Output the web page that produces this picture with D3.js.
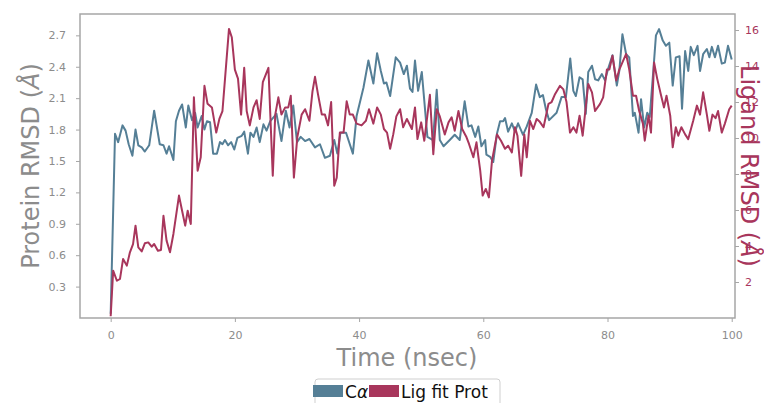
<!DOCTYPE html>
<html>
<head>
<meta charset="utf-8">
<script src="https://cdn.jsdelivr.net/npm/d3@7"></script>
<style>
body { margin: 0; background: #fff; }
text { font-family: "DejaVu Sans", sans-serif; }
</style>
</head>
<body>
<svg id="chart" width="764" height="403"></svg>
<script>
// protein C-alpha RMSD (left axis)
const protTime = [0,0.7,1.2,1.9,2.4,2.9,3.5,4.0,4.45,5.0,5.5,6.2,7.0,7.9,8.5,9.0,9.4,10.1,10.5,11.0,11.5,12.1,12.5,13.1,13.6,14.0,14.65,15.1,15.5,16.0,16.5,17.1,17.6,18.0,18.4,18.9,19.4,19.9,20.4,21.1,21.5,22.1,22.5,23.0,23.5,24.0,24.6,25.1,25.7,26.7,27.5,28.2,28.8,29.4,30.0,30.6,31.3,32.0,32.9,33.7,34.5,35.3,36.0,36.5,37.0,37.9,39.0,39.6,40.7,41.5,42.3,42.9,43.5,44.0,44.4,45.0,45.9,46.6,47.2,47.7,48.2,48.6,49.0,49.5,50.1,51.0,51.9,52.5,53.0,53.6,54.6,55.4,56.2,57.0,57.6,58.1,58.7,59.2,59.7,60.3,60.5,61.1,61.6,62.2,62.7,63.2,63.5,64.0,64.6,65.1,65.6,66.4,67.0,67.8,68.5,69.1,69.6,70.1,70.6,71.8,72.6,73.3,74.0,74.5,74.9,75.5,76.0,76.5,76.9,77.5,78.0,78.5,79.1,79.6,80.1,80.8,81.5,81.9,82.4,83.0,83.5,84.1,84.4,85.0,85.4,85.9,86.4,86.8,87.4,87.8,88.3,88.9,89.4,89.95,90.5,91.0,91.6,92.0,92.5,93.0,93.4,93.9,94.5,94.9,95.4,96.0,96.4,96.8,97.3,97.8,98.4,98.9,99.4,100.0];
const protRmsd = [0.04,1.76,1.68,1.84,1.79,1.66,1.55,1.80,1.65,1.63,1.59,1.65,1.98,1.66,1.65,1.57,1.64,1.51,1.88,1.98,2.04,1.82,2.03,1.89,1.96,1.82,1.93,1.80,1.88,1.87,1.57,1.57,1.68,1.66,1.70,1.65,1.68,1.61,1.72,1.74,1.78,1.57,1.77,1.73,1.82,1.68,1.85,1.79,1.88,1.95,1.69,1.98,1.82,2.03,1.68,1.73,1.69,1.71,1.63,1.66,1.53,1.55,1.70,1.57,1.77,1.77,1.57,1.93,2.20,2.46,2.24,2.53,2.36,2.24,2.25,2.12,2.49,2.44,2.33,2.41,2.19,2.16,2.46,2.17,2.35,1.73,1.70,2.18,1.70,1.64,1.70,1.75,1.70,2.07,1.83,1.84,1.73,1.83,1.64,1.70,1.56,1.54,1.49,1.76,1.88,1.88,1.91,1.78,1.86,1.78,1.86,1.75,1.83,1.96,2.23,2.11,2.13,1.99,1.89,1.96,2.11,2.11,2.48,2.17,2.12,2.30,2.28,1.95,2.35,2.41,2.28,2.27,2.33,2.27,2.38,2.51,2.22,2.36,2.71,2.52,2.49,1.93,1.96,1.77,2.09,1.82,1.96,1.92,2.38,2.70,2.76,2.65,2.60,2.63,2.22,2.49,2.50,2.00,2.55,2.36,2.59,2.51,2.60,2.36,2.52,2.57,2.49,2.59,2.49,2.60,2.43,2.44,2.60,2.47];

// ligand fit on protein RMSD (right axis)
const ligTime = [0,0.4,1.0,1.5,2.0,2.6,3.1,3.6,4.0,4.45,5.0,5.5,6.05,6.6,7.0,7.6,8.1,8.5,9.0,9.55,10.1,11.0,11.5,12.0,12.4,12.9,13.4,14.0,14.5,15.1,15.6,16.3,17.0,17.5,18.0,19.05,19.5,20.0,20.5,21.0,21.5,21.9,22.4,23.0,23.5,24.0,24.5,25.4,26.1,26.5,27.0,27.5,28.1,28.6,29.0,29.5,30.05,30.75,31.3,32.0,32.5,32.9,33.4,34.0,34.5,35.0,35.5,36.0,36.4,36.9,37.5,38.0,38.5,39.0,39.6,40.4,41.1,41.6,42.3,42.9,43.5,44.0,44.5,45.0,45.5,46.0,46.6,47.1,47.7,48.5,49.0,49.4,50.0,50.5,51.4,51.95,52.5,53.0,53.8,54.4,54.9,55.4,56.0,56.6,57.3,57.7,58.4,58.9,59.5,59.9,60.4,60.9,61.4,62.2,62.85,63.5,64.0,64.6,65.1,65.5,66.1,66.6,67.0,67.5,68.05,68.6,69.1,69.7,70.5,71.0,71.5,72.35,72.9,73.4,73.96,74.5,75.0,75.5,76.0,76.9,77.5,78.0,78.8,79.3,79.9,80.3,80.8,81.4,81.9,83.0,83.5,84.1,84.6,85.1,85.7,86.0,86.6,87.0,87.5,88.0,88.6,89.1,89.5,90.1,90.5,91.0,91.4,91.9,92.5,93.0,93.8,94.4,94.9,95.4,96.0,96.4,96.9,97.4,97.8,98.4,98.9,99.6,100.0];
const ligRmsd = [0.1,2.63,2.07,2.17,3.28,2.91,3.65,4.11,5.13,3.93,3.70,4.15,4.20,3.96,4.11,3.74,3.78,5.68,4.30,3.65,4.67,6.80,5.96,5.13,5.96,5.22,12.26,8.18,8.93,12.9,11.9,11.7,10.3,11.06,11.5,16.06,15.6,13.8,13.3,11.3,13.9,11.5,10.7,11.7,12.1,11.06,13.1,13.9,7.9,11.3,12.26,11.3,11.7,11.7,12.35,7.8,10.04,11.3,11.6,10.96,12.6,13.4,12.4,11.3,11.3,10.7,12.0,7.35,7.8,10.3,10.3,12.04,11.3,11.3,10.8,10.7,10.96,11.6,10.8,11.7,11.3,10.5,10.3,9.4,10.2,11.2,11.6,10.6,11.06,10.5,11.7,9.94,10.87,9.85,12.4,9.1,11.6,11.2,10.2,10.87,11.15,10.4,11.5,10.5,10.04,9.67,8.93,9.76,8.2,6.8,7.17,6.7,8.74,10.2,9.85,9.4,9.57,9.2,10.6,10.13,7.9,10.2,8.93,10.96,10.5,11.06,10.9,10.6,11.9,12.0,12.4,12.9,12.7,12.0,10.3,10.6,10.3,11.24,10.13,13.0,12.54,11.5,11.9,12.26,13.8,13.8,14.57,13.2,13.8,14.67,13.8,12.35,12.35,11.5,10.8,9.85,11.24,10.3,14.2,13.3,12.4,11.7,12.35,11.24,9.48,10.6,10.13,10.6,10.2,9.94,10.96,11.8,11.3,12.54,11.3,10.4,11.3,11.1,11.5,10.3,10.8,11.6,11.8];

const xTicks = [0, 20, 40, 60, 80, 100];
const leftTicks = [0.3, 0.6, 0.9, 1.2, 1.5, 1.8, 2.1, 2.4, 2.7];
const rightTicks = [2, 4, 6, 8, 10, 12, 14, 16];
const legendLabels = [["C", "α"], ["Lig fit Prot", ""]];

const blue = "#557f96";
const red = "#a8365c";
const grey = "#8c8c8c";
const spine = "#a6a6a6";

const svg = d3.select("#chart");
const pl = 80, pr = 735, pt = 14, pb = 318;

const x = d3.scaleLinear().domain([-4.94, 100.53]).range([pl, pr]);
const yL = d3.scaleLinear().domain([0, 2.904]).range([pb, pt]);
const yR = d3.scaleLinear().domain([0, 16.89]).range([pb, pt]);

svg.append("defs").append("clipPath").attr("id", "plotclip")
    .append("rect")
    .attr("x", pl).attr("y", pt)
    .attr("width", pr - pl).attr("height", pb - pt);

const prot = protTime.map((t, i) => ({t: t, v: protRmsd[i]}));
const lig = ligTime.map((t, i) => ({t: t, v: ligRmsd[i]}));

const g = svg.append("g").attr("clip-path", "url(#plotclip)");
g.append("path")
    .datum(prot)
    .attr("fill", "none")
    .attr("stroke", blue)
    .attr("stroke-width", 2)
    .attr("stroke-linejoin", "round")
    .attr("d", d3.line().x(d => x(d.t)).y(d => yL(d.v)));
g.append("path")
    .datum(lig)
    .attr("fill", "none")
    .attr("stroke", red)
    .attr("stroke-width", 2)
    .attr("stroke-linejoin", "round")
    .attr("d", d3.line().x(d => x(d.t)).y(d => yR(d.v)));

// frame
svg.append("rect")
    .attr("x", pl).attr("y", pt)
    .attr("width", pr - pl).attr("height", pb - pt)
    .attr("fill", "none")
    .attr("stroke", spine)
    .attr("stroke-width", 1.5);

function styleAxis(sel, textColor) {
    sel.select(".domain").remove();
    sel.selectAll(".tick line").attr("stroke", spine).attr("stroke-width", 1);
    sel.selectAll(".tick text")
        .attr("fill", textColor)
        .style("font-size", "11px")
        .style("font-family", "DejaVu Sans, sans-serif");
}

const xAxis = svg.append("g")
    .attr("transform", `translate(0,${pb})`)
    .call(d3.axisBottom(x).tickValues(xTicks).tickSize(4).tickPadding(9).tickFormat(d3.format("d")));
styleAxis(xAxis, grey);

const lAxis = svg.append("g")
    .attr("transform", `translate(${pl},0)`)
    .call(d3.axisLeft(yL).tickValues(leftTicks).tickSize(4).tickPadding(10).tickFormat(d3.format(".1f")));
styleAxis(lAxis, grey);

const rAxis = svg.append("g")
    .attr("transform", `translate(${pr},0)`)
    .call(d3.axisRight(yR).tickValues(rightTicks).tickSize(4).tickPadding(6).tickFormat(d3.format("d")));
styleAxis(rAxis, red);

// axis titles
svg.append("text")
    .attr("x", 407).attr("y", 366)
    .attr("text-anchor", "middle")
    .attr("fill", grey)
    .style("font-size", "24px")
    .text("Time (nsec)");

const lt = svg.append("text")
    .attr("transform", `translate(39,${(pt + pb) / 2}) rotate(-90)`)
    .attr("text-anchor", "middle")
    .attr("fill", grey)
    .style("font-size", "24px");
lt.append("tspan").text("Protein RMSD (");
lt.append("tspan").style("font-style", "italic").text("Å");
lt.append("tspan").text(")");

const rt = svg.append("text")
    .attr("transform", `translate(741,${(pt + pb) / 2}) rotate(90)`)
    .attr("text-anchor", "middle")
    .attr("fill", red)
    .style("font-size", "24px");
rt.append("tspan").text("Ligand RMSD (");
rt.append("tspan").style("font-style", "italic").text("Å");
rt.append("tspan").text(")");

// legend
const leg = svg.append("g");
leg.append("rect")
    .attr("x", 315).attr("y", 379)
    .attr("width", 185).attr("height", 32)
    .attr("rx", 3)
    .attr("fill", "#fff")
    .attr("stroke", "#cfcfcf")
    .attr("stroke-width", 1);
const legColors = [blue, red];
const legX = [313, 369];
legColors.forEach((c, i) => {
    leg.append("rect")
        .attr("x", legX[i]).attr("y", 385)
        .attr("width", 30).attr("height", 12)
        .attr("fill", c);
});
legendLabels.forEach((lab, i) => {
    const t = leg.append("text")
        .attr("x", legX[i] + 32).attr("y", 398)
        .attr("fill", "#111")
        .style("font-size", "17px");
    t.append("tspan").text(lab[0]);
    t.append("tspan").style("font-style", "italic").text(lab[1]);
});
</script>
</body>
</html>
